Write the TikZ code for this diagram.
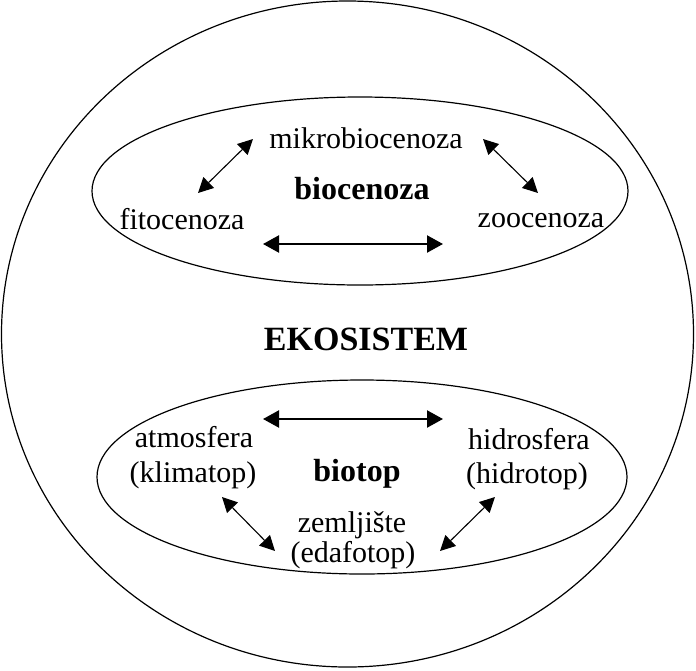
\documentclass[tikz,border=0pt]{standalone}
\usepackage{fontspec}
\setmainfont{Liberation Serif}
\usetikzlibrary{arrows.meta}
\tikzset{
  txt/.style={anchor=base, inner sep=0pt, font=\fontsize{30}{34}\selectfont},
  btxt/.style={anchor=base, inner sep=0pt, font=\fontsize{32}{36}\selectfont\bfseries},
  outline/.style={draw=black, line width=1.2pt},
  thinarr/.style={draw=black, line width=1.1pt, {Triangle[length=15pt,width=15pt]}-{Triangle[length=15pt,width=15pt]}},
  thickarr/.style={draw=black, line width=2.2pt, {Triangle[length=16pt,width=17pt]}-{Triangle[length=16pt,width=17pt]}}
}
\begin{document}
\begin{tikzpicture}[x=1pt, y=-1pt]
\useasboundingbox (0,0) rectangle (696,670);
\fill[white] (0,0) rectangle (696,670);
% shapes
\draw[outline] (347.5,334) ellipse [x radius=346, y radius=333];
\draw[outline] (360,191) ellipse [x radius=268, y radius=94];
\draw[outline] (362,477) ellipse [x radius=265, y radius=97];
% texts
\node[txt] (mik) at (366,148) {mikrobiocenoza};
\node[btxt] (bioc) at (362,199) {biocenoza};
\node[txt] (fit) at (182,229) {fitocenoza};
\node[txt] (zoo) at (541,227) {zoocenoza};
\node[btxt, font=\fontsize{34}{38}\selectfont\bfseries] (eko) at (366,350) {EKOSISTEM};
\node[txt] (atm) at (194,447) {atmosfera};
\node[txt] (klim) at (193,482) {(klimatop)};
\node[btxt] (biot) at (357,481) {biotop};
\node[txt] (hid) at (529,449) {hidrosfera};
\node[txt] (hidr) at (527,483) {(hidrotop)};
\node[txt] (zem) at (352,532) {zemljište};
\node[txt] (eda) at (353,562) {(edafotop)};
% arrow endpoints
\coordinate (a1) at (253,139); \coordinate (a2) at (198,193);
\coordinate (b1) at (483,139); \coordinate (b2) at (538,193);
\coordinate (c1) at (263,244); \coordinate (c2) at (443,244);
\coordinate (d1) at (263,419); \coordinate (d2) at (443,419);
\coordinate (e1) at (222,497); \coordinate (e2) at (275,551);
\coordinate (f1) at (495,497); \coordinate (f2) at (440,551);
\draw[thinarr] (a1) -- (a2);
\draw[thinarr] (b1) -- (b2);
\draw[thickarr] (c1) -- (c2);
\draw[thickarr] (d1) -- (d2);
\draw[thinarr] (e1) -- (e2);
\draw[thinarr] (f1) -- (f2);
\end{tikzpicture}
\end{document}
